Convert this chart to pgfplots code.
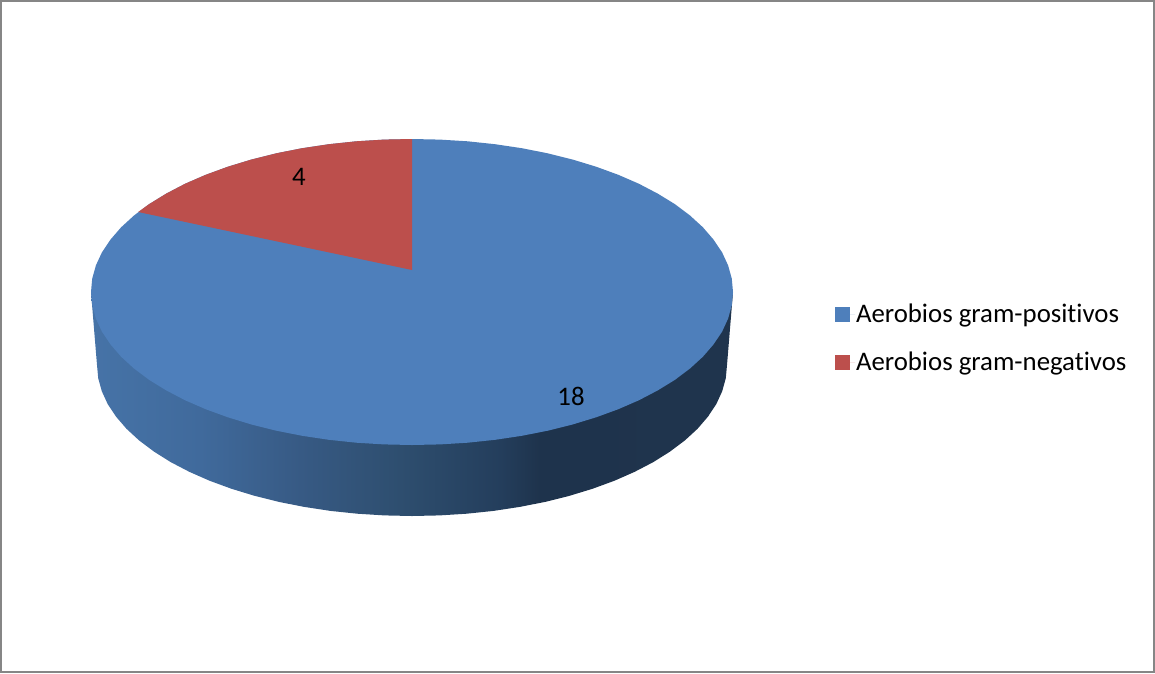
\documentclass[border=0pt]{standalone}
\usepackage{fontspec}
\setmainfont[Ligatures=NoCommon]{Carlito}
\usepackage{pgfplots}
\pgfplotsset{compat=1.18}
\definecolor{piefirst}{HTML}{4E7FBB}
\definecolor{piesecond}{HTML}{BC4F4C}
\definecolor{frameline}{HTML}{868686}
\pgfdeclarehorizontalshading{sideg}{100bp}{
  rgb(0bp)=(0.275,0.451,0.655);
  rgb(25bp)=(0.275,0.451,0.655);
  rgb(33.5bp)=(0.251,0.416,0.612);
  rgb(41.3bp)=(0.216,0.353,0.518);
  rgb(49.1bp)=(0.180,0.306,0.435);
  rgb(56.9bp)=(0.141,0.243,0.361);
  rgb(60bp)=(0.118,0.200,0.298);
  rgb(75bp)=(0.122,0.204,0.302);
  rgb(100bp)=(0.122,0.204,0.302)}
\begin{document}
\begin{tikzpicture}
\begin{axis}[
  scale only axis, width=1153pt, height=671pt,
  xmin=1, xmax=1154, ymin=1, ymax=672, y dir=reverse,
  xtick=\empty, ytick=\empty,
  axis line style={draw=frameline, line width=2pt},
  legend cell align=left,
  legend style={at={(axis cs:835,303)}, anchor=north west, draw=none, fill=none,
    font=\fontsize{26.8}{30}\selectfont, row sep=26pt, inner sep=0pt, outer sep=0pt,
    nodes={inner sep=1pt}},
  legend image code/.code={\fill[#1] (0pt,-7.5pt) rectangle (15pt,7.5pt); \path (0pt,0pt) -- (20pt,0pt);},
]
% side wall
\addplot[forget plot, draw=none, shade, shading=sideg] coordinates {
(733,292) (727,365) (725.8,378.2) (722.2,391.2) (716.3,404.1) (708,416.6) (697.5,428.8) (684.8,440.5) (670,451.6) (653.3,462.1) (634.7,471.8) (614.5,480.7) (592.7,488.7) (569.5,495.8) (545.1,501.9) (519.7,506.9) (493.5,510.9) (466.7,513.7) (439.5,515.4) (412,516)
(384.5,515.4) (357.3,513.7) (330.5,510.9) (304.3,506.9) (278.9,501.9) (254.5,495.8) (231.3,488.7) (209.5,480.7) (189.3,471.8) (170.7,462.1) (154,451.6) (139.2,440.5) (126.5,428.8) (116,416.6) (107.7,404.1) (101.8,391.2) (98.2,378.2) (97,365) (91,292)
} -- cycle;
% slice 18, drawn whole under slice 4
\addplot[draw=none, fill=piefirst] coordinates {
(733,292) (731.8,278.7) (728.1,265.4) (722.1,252.4) (713.6,239.7) (702.9,227.3) (690,215.5) (675,204.2) (657.9,193.7) (639,183.8) (618.3,174.8) (596.1,166.7) (572.5,159.5) (547.7,153.3) (521.8,148.2) (495.1,144.2) (467.7,141.3) (440,139.6) (412,139)
(384,139.6) (356.3,141.3) (328.9,144.2) (302.2,148.2) (276.3,153.3) (251.5,159.5) (227.9,166.7) (205.7,174.8) (185,183.8) (166.1,193.7) (149,204.2) (134,215.5) (121.1,227.3) (110.4,239.7) (101.9,252.4) (95.9,265.4) (92.2,278.7) (91,292)
(92.2,305.3) (95.9,318.6) (101.9,331.6) (110.4,344.3) (121.1,356.7) (134,368.5) (149,379.8) (166.1,390.3) (185,400.2) (205.7,409.2) (227.9,417.3) (251.5,424.5) (276.3,430.7) (302.2,435.8) (328.9,439.8) (356.3,442.7) (384,444.4) (412,445)
(440,444.4) (467.7,442.7) (495.1,439.8) (521.8,435.8) (547.7,430.7) (572.5,424.5) (596.1,417.3) (618.3,409.2) (639,400.2) (657.9,390.3) (675,379.8) (690,368.5) (702.9,356.7) (713.6,344.3) (722.1,331.6) (728.1,318.6) (731.8,305.3)
} -- cycle;
\addlegendentry{Aerobios gram-positivos}
% slice 4
\addplot[draw=none, fill=piesecond] coordinates {
(412,270) (412,139) (384,139.6) (356.3,141.3) (328.9,144.2) (302.2,148.2) (276.3,153.3) (251.5,159.5) (227.9,166.7) (205.7,174.8) (185,183.8) (166.1,193.7) (149,204.2) (138.2,212)
} -- cycle;
\addlegendentry{Aerobios gram-negativos}
\node[font=\fontsize{26.8}{30}\selectfont] at (axis cs:299,177) {4};
\node[font=\fontsize{26.8}{30}\selectfont] at (axis cs:571,396) {18};
\end{axis}
\end{tikzpicture}
\end{document}
